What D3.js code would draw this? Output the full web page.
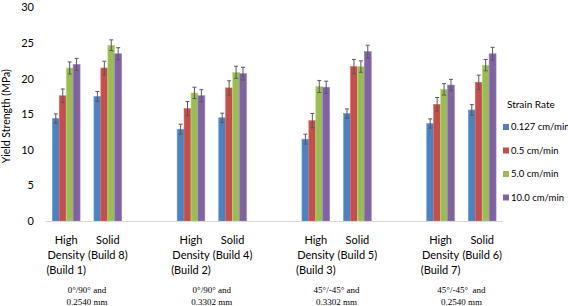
<!DOCTYPE html>
<html>
<head>
<meta charset="utf-8">
<script src="https://cdn.jsdelivr.net/npm/d3@7"></script>
<style>
  body { margin: 0; background: #fff; }
  svg { display: block; font-family: Lato, 'Open Sans', sans-serif; }
</style>
</head>
<body>
<div id="chart"></div>
<script>
'use strict';
// Chart data
const categories = ['HD1', 'S8', 'gap1', 'HD2', 'S4', 'gap2', 'HD3', 'S5', 'gap3', 'HD7', 'S6']
const categoryLabels = [
  ['High', 'Density', '(Build 1)'], ['Solid', '(Build 8)'], [],
  ['High', 'Density', '(Build 2)'], ['Solid', '(Build 4)'], [],
  ['High', 'Density', '(Build 3)'], ['Solid', '(Build 5)'], [],
  ['High', 'Density', '(Build 7)'], ['Solid', '(Build 6)']
]
const seriesNames = ['0.127 cm/min', '0.5 cm/min', '5.0 cm/min', '10.0 cm/min']
const seriesColors = ['#4f81bd', '#c0504d', '#9bbb59', '#8064a2']
// values per category, one per series (null = empty category)
const rate0127 = [14.4, 17.5, null, 12.9, 14.5, null, 11.5, 15.1, null, 13.7, 15.6]
const rate05   = [17.6, 21.5, null, 15.8, 18.7, null, 14.1, 21.7, null, 16.4, 19.5]
const rate50   = [21.5, 24.7, null, 18.0, 20.9, null, 18.9, 21.7, null, 18.5, 21.9]
const rate100  = [22.0, 23.5, null, 17.6, 20.7, null, 18.8, 23.8, null, 19.1, 23.5]
// error bar half-heights
const err0127 = [0.65, 0.7, null, 0.7, 0.65, null, 0.7, 0.65, null, 0.65, 0.75]
const err05   = [0.95, 0.95, null, 1.0, 1.0, null, 1.0, 1.0, null, 0.95, 1.0]
const err50   = [0.85, 0.75, null, 0.8, 0.85, null, 0.85, 0.8, null, 0.8, 0.8]
const err100  = [0.85, 0.85, null, 0.85, 0.9, null, 0.85, 0.9, null, 0.8, 0.9]
const yTicks = [0, 5, 10, 15, 20, 25, 30]
const groupNotes = [
  { from: 'HD1', to: 'S8', lines: ['0°/90° and', '0.2540 mm'] },
  { from: 'HD2', to: 'S4', lines: ['0°/90° and', '0.3302 mm'] },
  { from: 'HD3', to: 'S5', lines: ['45°/-45° and', '0.3302 mm'] },
  { from: 'HD7', to: 'S6', lines: ['45°/-45°  and', '0.2540 mm'] }
]

const values = [rate0127, rate05, rate50, rate100]
const errors = [err0127, err05, err50, err100]

const W = 568, H = 306
const plot = { left: 45.4, right: 503, top: 7.5, bottom: 221 }

const svg = d3.select('#chart').append('svg')
  .attr('width', W)
  .attr('height', H)

const x = d3.scaleBand().domain(categories).range([plot.left, plot.right]).paddingInner(0.334).paddingOuter(0.167)
const xs = d3.scaleBand().domain(d3.range(seriesNames.length)).range([0, x.bandwidth()])
const y = d3.scaleLinear().domain([0, 30]).range([plot.bottom, plot.top])

// Y tick labels
svg.append('g')
  .selectAll('text')
  .data(yTicks)
  .join('text')
  .attr('x', 34)
  .attr('y', d => y(d))
  .attr('dy', '0.36em')
  .attr('text-anchor', 'end')
  .attr('font-size', 11)
  .attr('fill', '#000')
  .text(d => d)

// Y axis title
svg.append('text')
  .attr('transform', `translate(10, ${(plot.top + plot.bottom) / 2 + 2}) rotate(-90)`)
  .attr('text-anchor', 'middle')
  .attr('font-size', 10.5)
  .text('Yield Strength (MPa)')

// Bars
const rows = []
categories.forEach((c, i) => {
  values.forEach((s, j) => {
    if (s[i] != null) rows.push({ cat: c, series: j, value: s[i], err: errors[j][i] })
  })
})

svg.append('g')
  .selectAll('rect')
  .data(rows)
  .join('rect')
  .attr('x', d => x(d.cat) + xs(d.series))
  .attr('y', d => y(d.value))
  .attr('width', xs.bandwidth())
  .attr('height', d => y(0) - y(d.value))
  .attr('fill', d => seriesColors[d.series])
  .attr('stroke', d => d3.color(seriesColors[d.series]).brighter(0.6))
  .attr('stroke-width', 0.6)

// Error bars
const eb = svg.append('g').attr('stroke', '#595959').attr('stroke-width', 1)
rows.forEach(d => {
  const cx = x(d.cat) + xs(d.series) + xs.bandwidth() / 2
  const y1 = y(d.value + d.err), y2 = y(d.value - d.err)
  eb.append('line').attr('x1', cx).attr('x2', cx).attr('y1', y1).attr('y2', y2)
  eb.append('line').attr('x1', cx - 2).attr('x2', cx + 2).attr('y1', y1).attr('y2', y1)
  eb.append('line').attr('x1', cx - 2).attr('x2', cx + 2).attr('y1', y2).attr('y2', y2)
})

// X axis line
svg.append('line')
  .attr('x1', plot.left).attr('x2', plot.right)
  .attr('y1', y(0) + 0.5).attr('y2', y(0) + 0.5)
  .attr('stroke', '#d9d9d9')
  .attr('stroke-width', 1)

// Category labels
categories.forEach((c, i) => {
  const cx = x(c) + x.bandwidth() / 2
  svg.append('text')
    .attr('text-anchor', 'middle')
    .attr('font-size', 11)
    .selectAll('tspan')
    .data(categoryLabels[i])
    .join('tspan')
    .attr('x', cx)
    .attr('y', (d, k) => 244 + k * 15)
    .text(d => d)
})

// Group notes
groupNotes.forEach(g => {
  const cx = (x(g.from) + x(g.to) + x.bandwidth()) / 2
  svg.append('text')
    .attr('text-anchor', 'middle')
    .attr('font-family', "'Liberation Serif', 'Times New Roman', serif")
    .attr('font-size', 9)
    .selectAll('tspan')
    .data(g.lines)
    .join('tspan')
    .attr('x', cx)
    .attr('y', (d, k) => 293 + k * 12)
    .attr('xml:space', 'preserve')
    .text(d => d)
})

// Legend
const legend = svg.append('g').attr('transform', 'translate(503, 0)')
legend.append('text')
  .attr('x', 4)
  .attr('y', 104)
  .attr('dy', '0.36em')
  .attr('font-size', 10)
  .text('Strain Rate')
seriesNames.forEach((name, j) => {
  const ly = 127 + j * 23.5
  legend.append('rect')
    .attr('x', 0).attr('y', ly - 3).attr('width', 6).attr('height', 6)
    .attr('fill', seriesColors[j])
  legend.append('text')
    .attr('x', 8)
    .attr('y', ly)
    .attr('dy', '0.36em')
    .attr('font-size', 9.5)
    .text(name)
})
</script>
</body>
</html>
